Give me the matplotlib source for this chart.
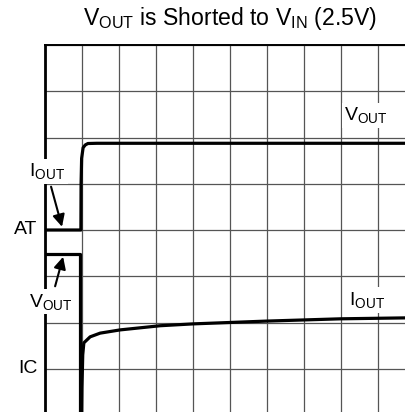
import matplotlib
matplotlib.use("Agg")
import matplotlib.pyplot as plt

plt.rcParams['font.family'] = ['Liberation Sans', 'DejaVu Sans']
plt.rcParams['mathtext.fontset'] = 'custom'
plt.rcParams['mathtext.rm'] = 'Liberation Sans'

# scope divisions (10 x 8), only part of the screen is visible
x_divs = 10
y_divs = 8

# V_OUT trace: sits on the AT level, then steps up
vout_x = [0.0, 0.97, 0.975, 0.99, 1.03, 1.09, 1.16, 1.4, 10.0]
vout_y = [4.0, 4.0, 5.0, 5.55, 5.78, 5.84, 5.87, 5.875, 5.875]

# I_OUT trace before the short: flat, then drops off screen
iout_pre_x = [0.0, 0.95, 0.95]
iout_pre_y = [3.48, 3.48, -0.3]

# I_OUT recovery after the short
iout_x = [0.99, 1.0, 1.02, 1.05, 1.22, 1.49, 2.03, 3.11, 4.0, 5.97, 8.0, 9.76, 10.0]
iout_y = [-0.3, 0.6, 1.3, 1.56, 1.69, 1.77, 1.84, 1.93, 1.97, 2.03, 2.08, 2.10, 2.10]

fig = plt.figure(figsize=(4.06, 4.12), dpi=100)
ax = fig.add_axes([45 / 406, -3 / 412, 370 / 406, 370 / 412])

ax.set_xlim(0, x_divs)
ax.set_ylim(0, y_divs)
ax.set_xticks(range(x_divs + 1))
ax.set_yticks(range(y_divs + 1))
ax.tick_params(length=0, labelbottom=False, labelleft=False)
ax.grid(True, color='#555555', lw=0.9)
ax.spines['left'].set_linewidth(2.0)
ax.spines['top'].set_linewidth(1.4)
ax.spines['right'].set_visible(False)
ax.spines['bottom'].set_visible(False)

ax.plot(vout_x, vout_y, color='black', lw=2.3, solid_joinstyle='round')
ax.plot(iout_pre_x, iout_pre_y, color='black', lw=2.3)
ax.plot(iout_x, iout_y, color='black', lw=2.3, solid_joinstyle='round')

fig.text(230 / 406, 1 - 19 / 412,
         r"$\mathrm{V_{OUT}}$ is Shorted to $\mathrm{V_{IN}}$ (2.5V)",
         ha='center', va='center', fontsize=16.6)

box = dict(facecolor='white', edgecolor='none', pad=2)

# channel markers
ax.text(-0.22, 4.0, "AT", ha='right', va='center', fontsize=14, clip_on=False)
ax.text(-0.19, 1.0, "IC", ha='right', va='center', fontsize=14, clip_on=False)

# trace labels on the right
ax.text(8.68, 6.48, r"$\mathrm{V_{OUT}}$", ha='center', va='center',
        fontsize=14, bbox=box)
ax.text(8.70, 2.49, r"$\mathrm{I_{OUT}}$", ha='center', va='center',
        fontsize=14, bbox=box)

# labels with arrows on the left
ax.annotate(r"$\mathrm{I_{OUT}}$", xy=(0.46, 4.07), xytext=(0.05, 5.27),
            ha='center', va='center', fontsize=14, bbox=box,
            annotation_clip=False,
            arrowprops=dict(arrowstyle='-|>', color='black', lw=1.5,
                            mutation_scale=18, shrinkA=2, shrinkB=0))
ax.annotate(r"$\mathrm{V_{OUT}}$", xy=(0.49, 3.42), xytext=(0.16, 2.45),
            ha='center', va='center', fontsize=14, bbox=box,
            annotation_clip=False,
            arrowprops=dict(arrowstyle='-|>', color='black', lw=1.5,
                            mutation_scale=18, shrinkA=2, shrinkB=0))

fig.savefig("out.png", dpi=100)
